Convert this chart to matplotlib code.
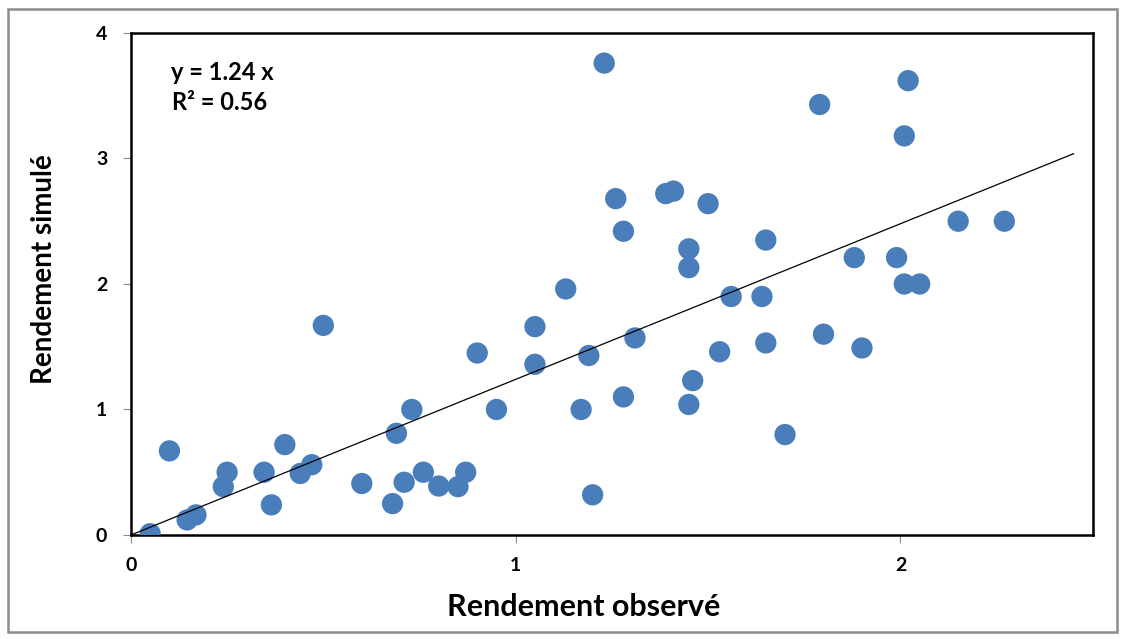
import matplotlib.pyplot as plt
import numpy as np
from matplotlib.patches import Rectangle

# Observed vs simulated yield
observe = [0.05, 0.10, 0.146, 0.169, 0.24, 0.25, 0.346, 0.365, 0.40, 0.44,
           0.47, 0.50, 0.60, 0.68, 0.69, 0.71, 0.73, 0.76, 0.80, 0.85,
           0.87, 0.90, 0.95, 1.05, 1.05, 1.13, 1.17, 1.19, 1.20, 1.23,
           1.26, 1.28, 1.28, 1.31, 1.39, 1.41, 1.50, 1.45, 1.45, 1.45,
           1.46, 1.56, 1.53, 1.64, 1.65, 1.65, 1.70, 1.79, 1.80, 1.88,
           1.90, 1.99, 2.01, 2.05, 2.02, 2.01, 2.15, 2.27]
simule = [0.01, 0.67, 0.12, 0.16, 0.385, 0.50, 0.50, 0.24, 0.72, 0.49,
          0.56, 1.67, 0.41, 0.25, 0.81, 0.42, 1.00, 0.50, 0.39, 0.385,
          0.50, 1.45, 1.00, 1.66, 1.36, 1.96, 1.00, 1.43, 0.32, 3.76,
          2.68, 2.42, 1.10, 1.57, 2.72, 2.74, 2.64, 2.28, 2.13, 1.04,
          1.23, 1.90, 1.46, 1.90, 2.35, 1.53, 0.80, 3.43, 1.60, 2.21,
          1.49, 2.21, 2.00, 2.00, 3.62, 3.18, 2.50, 2.50]

xticks = [0, 1, 2]
yticks = [0, 1, 2, 3, 4]

pente = 1.24
r2 = 0.56
x_fin = 2.45

plt.rcParams['font.family'] = ['Lato', 'DejaVu Sans']
plt.rcParams['font.weight'] = 'bold'

fig = plt.figure(figsize=(11.25, 6.39), dpi=100)
ax = fig.add_axes([0.1164, 0.1628, 0.855, 0.7856])

# grey border round the chart area
fig.patches.append(Rectangle((0.007, 0.011), 0.986, 0.975, transform=fig.transFigure,
                             fill=False, edgecolor='#8c8c8c', linewidth=1.8))

ax.scatter(observe, simule, s=235, color='#4a7ebb', edgecolors='none', zorder=3)

xl = np.array([0, x_fin])
ax.plot(xl, pente * xl, color='black', linewidth=0.9, zorder=4)

ax.set_xlim(0, 2.5)
ax.set_ylim(0, 4)
ax.set_xticks(xticks)
ax.set_yticks(yticks)
ax.set_xticklabels([str(t) for t in xticks], fontsize=14, fontweight='bold')
ax.set_yticklabels([str(t) for t in yticks], fontsize=14, fontweight='bold')
ax.tick_params(axis='both', direction='out', length=6, width=0.8,
               colors='#8c8c8c', labelcolor='black')
ax.tick_params(axis='x', pad=10)
ax.tick_params(axis='y', pad=11)
for sp in ax.spines.values():
    sp.set_linewidth(1.8)
    sp.set_color('black')

ax.set_xlabel('Rendement observé', fontsize=22, fontweight='bold', va='center')
ax.set_ylabel('Rendement simulé', fontsize=20, fontweight='bold', va='center')
ax.xaxis.set_label_coords(0.471, -0.143)
ax.yaxis.set_label_coords(-0.090, 0.53)

ax.text(0.042, 0.922, f'y = {pente:.2f} x', transform=ax.transAxes, fontsize=17,
        fontweight='bold', va='center')
ax.text(0.043, 0.861, f'R² = {r2:.2f}', transform=ax.transAxes, fontsize=17,
        fontweight='bold', va='center')

fig.savefig('out.png', dpi=100)
